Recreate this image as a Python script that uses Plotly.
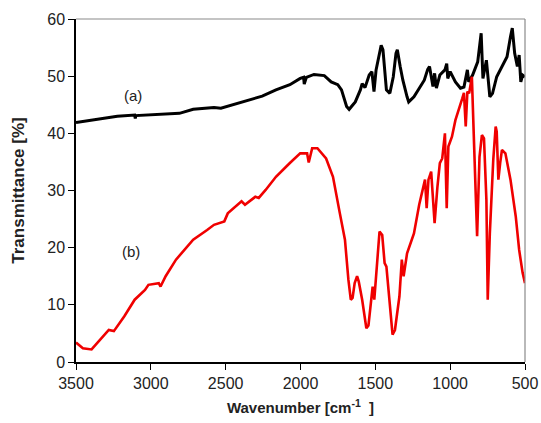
import plotly.graph_objects as go

# FTIR spectrum (a)
wn_a = [3500, 3316, 3224, 3108, 3104, 3100, 2993, 2809, 2717, 2578, 2532, 2394, 2348, 2256,
        2164, 2071, 2002, 1979, 1975, 1961, 1910, 1841, 1795, 1751, 1726, 1692, 1675, 1634,
        1600, 1588, 1569, 1541, 1523, 1509, 1495, 1472, 1461, 1449, 1426, 1403, 1380, 1362,
        1353, 1334, 1316, 1288, 1277, 1242, 1173, 1150, 1138, 1115, 1104, 1092, 1069, 1035,
        1023, 1016, 1000, 965, 931, 908, 885, 876, 850, 816, 793, 781, 758, 735, 717, 689,
        666, 620, 597, 585, 569, 551, 539, 528, 516, 500]
t_a = [41.9, 42.6, 43.0, 43.2, 42.6, 43.1, 43.2, 43.5, 44.2, 44.5, 44.4, 45.4, 45.7, 46.5,
       47.6, 48.5, 49.6, 49.8, 48.6, 49.8, 50.3, 50.1, 49.0, 48.5, 47.6, 44.7, 44.2, 45.5,
       47.6, 48.7, 48.0, 50.2, 50.8, 47.3, 51.1, 54.0, 55.4, 54.6, 47.6, 47.0, 49.9, 54.0,
       54.6, 51.7, 49.3, 46.4, 45.5, 46.4, 49.3, 51.2, 51.7, 48.2, 50.5, 47.9, 50.2, 51.1,
       52.2, 49.6, 50.8, 49.0, 47.9, 48.1, 51.1, 49.0, 50.2, 52.5, 57.5, 49.6, 52.8, 46.4,
       47.0, 49.9, 51.1, 53.4, 56.9, 58.4, 54.0, 51.7, 53.7, 49.0, 50.2, 49.9]

# FTIR spectrum (b)
wn_b = [3500, 3454, 3396, 3339, 3281, 3247, 3177, 3108, 3039, 3016, 2947, 2935, 2901, 2832,
        2774, 2717, 2624, 2578, 2509, 2486, 2394, 2371, 2302, 2279, 2233, 2164, 2071, 2002,
        1956, 1945, 1922, 1887, 1829, 1783, 1737, 1703, 1680, 1664, 1652, 1638, 1622, 1611,
        1588, 1560, 1546, 1523, 1518, 1507, 1488, 1472, 1454, 1438, 1426, 1403, 1385, 1369,
        1339, 1323, 1311, 1288, 1242, 1207, 1184, 1168, 1157, 1145, 1127, 1104, 1085, 1069,
        1053, 1035, 1023, 1012, 988, 965, 919, 908, 896, 885, 873, 855, 839, 820, 804, 788,
        774, 758, 749, 735, 712, 696, 689, 678, 666, 654, 631, 597, 562, 539, 516, 500]
t_b = [3.4, 2.4, 2.2, 3.9, 5.6, 5.4, 8.0, 10.9, 12.6, 13.5, 13.8, 13.2, 15.0, 17.9,
       19.6, 21.4, 23.1, 24.0, 24.6, 26.0, 28.1, 27.5, 28.9, 28.7, 30.1, 32.4, 34.8, 36.5,
       36.5, 34.9, 37.4, 37.4, 35.6, 32.4, 26.0, 21.4, 14.4, 10.9, 11.2, 13.8, 15.0, 14.1,
       10.9, 5.9, 6.4, 11.5, 13.2, 10.9, 16.7, 22.8, 22.2, 17.3, 16.7, 10.3, 4.8, 5.6,
       11.5, 17.9, 15.0, 19.0, 22.5, 27.5, 30.1, 31.9, 26.9, 31.9, 33.3, 24.3, 30.7, 34.8,
       35.6, 40.0, 26.9, 37.7, 39.4, 42.3, 46.1, 47.1, 41.2, 47.3, 47.0, 49.9, 37.1, 22.0, 35.9, 39.7,
       39.1, 28.4, 10.9, 22.5, 35.4, 41.2, 40.3, 31.9, 34.8, 37.1, 36.5, 31.9, 25.5, 19.6, 15.6, 13.8]

x_ticks = [3500, 3000, 2500, 2000, 1500, 1000, 500]
y_ticks = [0, 10, 20, 30, 40, 50, 60]

font_family = "Liberation Sans, Arial, sans-serif"

fig = go.Figure()
fig.add_trace(go.Scatter(x=wn_a, y=t_a, mode="lines",
                         line=dict(color="black", width=3), showlegend=False))
fig.add_trace(go.Scatter(x=wn_b, y=t_b, mode="lines",
                         line=dict(color="#f00000", width=2.6), showlegend=False))

fig.add_annotation(x=3120, y=46.6, text="(a)", showarrow=False,
                   font=dict(family=font_family, size=15, color="#222"))
fig.add_annotation(x=3135, y=19.3, text="(b)", showarrow=False,
                   font=dict(family=font_family, size=15, color="#222"))

# gray frame on top and right sides of the plot area
fig.add_shape(type="line", xref="paper", yref="paper", x0=0, x1=1, y0=1, y1=1,
              line=dict(color="#8a8a8a", width=1.2))
fig.add_shape(type="line", xref="paper", yref="paper", x0=1, x1=1, y0=0, y1=1,
              line=dict(color="#8a8a8a", width=1.2))

fig.update_layout(
    width=541, height=423,
    margin=dict(l=76, r=16, t=19, b=61),
    paper_bgcolor="white", plot_bgcolor="white",
    font=dict(family=font_family, size=16, color="#222"),
    xaxis=dict(
        range=[3500, 500], autorange=False, automargin=False,
        tickvals=x_ticks, ticktext=[str(v) for v in x_ticks],
        showgrid=False, zeroline=False,
        showline=True, linecolor="black", linewidth=1.5,
        ticks="outside", ticklen=6, tickcolor="black", tickwidth=1.2,
        tickfont=dict(size=16, color="#222"),
        title=dict(text="<b>Wavenumber [cm<sup>-1</sup>\u00a0\u00a0]</b>",
                   font=dict(size=15, color="#222"), standoff=12),
    ),
    yaxis=dict(
        range=[0, 60], autorange=False, automargin=False,
        tickvals=y_ticks,
        showgrid=False, zeroline=False,
        showline=True, linecolor="black", linewidth=1.5,
        ticks="outside", ticklen=6, tickcolor="black", tickwidth=1.2,
        tickfont=dict(size=16, color="#222"),
        title=dict(text="<b>Transmittance [%]</b>",
                   font=dict(size=17, color="#222"), standoff=18),
    ),
)

fig.write_html("out.html")
